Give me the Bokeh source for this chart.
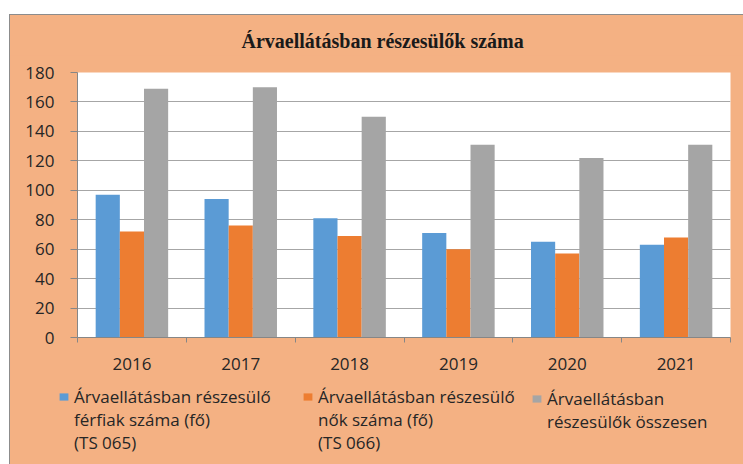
from bokeh.plotting import figure
from bokeh.models import (ColumnDataSource, FixedTicker, Legend, LegendItem, Spacer, Range1d, Label)
from bokeh.layouts import column, row
from bokeh.embed import file_html
from bokeh.resources import INLINE

years = ["2016", "2017", "2018", "2019", "2020", "2021"]
ferfiak = [97, 94, 81, 71, 65, 63]
nok = [72, 76, 69, 60, 57, 68]
osszesen = [169, 170, 150, 131, 122, 131]
series_labels = [
    ["Árvaellátásban részesülő", "férfiak száma (fő)", "(TS 065)"],
    ["Árvaellátásban részesülő", "nők száma (fő)", "(TS 066)"],
    ["Árvaellátásban", "részesülők összesen"],
]
title_text = "Árvaellátásban részesülők száma"
y_ticks = list(range(0, 181, 20))

BG = "#F4B183"
colors = ["#5B9BD5", "#ED7D31", "#A5A5A5"]
offsets = [-0.222, 0.0, 0.222]
bw = 0.222

centers = [i + 0.5 for i in range(len(years))]

W = 733

# title panel
TH = 40
tf = figure(width=W - 1, height=TH, output_backend="svg", toolbar_location=None,
            x_range=Range1d(0, W - 1), y_range=Range1d(0, TH),
            min_border=0, x_axis_type=None, y_axis_type=None)
tf.border_fill_color = BG
tf.background_fill_alpha = 0
tf.outline_line_color = None
tf.grid.visible = False
tf.add_layout(Label(x=230, y=TH - 25, text=title_text, text_font="Liberation Serif",
                    text_font_size="20px", text_font_style="bold", text_color="#1a1a1a",
                    text_align="left", text_baseline="middle"))

p = figure(width=W, height=366 - TH, output_backend="svg", toolbar_location=None,
           x_range=Range1d(0, len(years)), y_range=Range1d(0, 180),
           min_border_left=67, min_border_right=13, min_border_top=57 - TH, min_border_bottom=44)
p.border_fill_color = BG
p.background_fill_color = "white"
p.outline_line_color = None

renderers = []
for vals, col, off in zip([ferfiak, nok, osszesen], colors, offsets):
    src = ColumnDataSource(dict(x=[c + off for c in centers], top=vals))
    r = p.vbar(x="x", top="top", width=bw, source=src, fill_color=col, line_color=None)
    renderers.append(r)

# x axis
xa = p.xaxis[0]
xa.ticker = FixedTicker(ticks=centers, minor_ticks=list(range(len(years) + 1)))
xa.major_label_overrides = {c: y for c, y in zip(centers, years)}
xa.major_tick_out = 0
xa.major_tick_in = 0
xa.minor_tick_out = 5
xa.minor_tick_in = 0
xa.minor_tick_line_color = "#868686"
xa.axis_line_color = "#868686"
xa.major_label_text_font = "Open Sans"
xa.major_label_text_font_size = "17px"
xa.major_label_text_color = "#262626"
xa.major_label_standoff = 15

ya = p.yaxis[0]
ya.ticker = FixedTicker(ticks=y_ticks)
ya.major_tick_out = 7
ya.major_tick_in = 0
ya.minor_tick_line_color = None
ya.major_tick_line_color = "#868686"
ya.axis_line_color = "#868686"
ya.major_label_text_font = "Open Sans"
ya.major_label_text_font_size = "17px"
ya.major_label_text_color = "#262626"
ya.major_label_standoff = 16

p.xgrid.grid_line_color = None
p.ygrid.ticker = FixedTicker(ticks=y_ticks)
p.ygrid.grid_line_color = "#A6A6A6"
p.ygrid.grid_line_width = 1.2

# legend panel (separate figure so the legend is not clipped)
LH = 84
pl = figure(width=W - 1, height=LH, output_backend="svg", toolbar_location=None,
            x_range=Range1d(0, 1), y_range=Range1d(0, 1),
            min_border=0, x_axis_type=None, y_axis_type=None)
pl.border_fill_color = BG
pl.background_fill_alpha = 0
pl.outline_line_color = None
pl.grid.visible = False

blank = pl.vbar(x=[5], top=[5], width=0.1, fill_alpha=0, line_alpha=0)
legend_x = [47, 291, 520]
for col, lines, lx in zip(colors, series_labels, legend_x):
    sw = pl.vbar(x=[5], top=[5], width=0.1, fill_color=col, line_color=None)
    items = [LegendItem(label=lines[0], renderers=[sw])]
    items += [LegendItem(label=t, renderers=[blank]) for t in lines[1:]]
    n = len(lines)
    h = n * 23 - (n - 1) * 2
    lg = Legend(items=items, orientation="vertical", location=(lx, LH - 8 - h))
    lg.background_fill_alpha = 0
    lg.border_line_color = None
    lg.label_text_font = "Open Sans"
    lg.label_text_font_size = "17px"
    lg.label_text_color = "#262626"
    lg.glyph_width = 11
    lg.glyph_height = 9
    lg.label_standoff = 5
    lg.spacing = -2
    lg.padding = 0
    lg.margin = 0
    pl.add_layout(lg, "center")

inner = column(row(Spacer(width=1), tf, spacing=0), p, row(Spacer(width=1), pl, spacing=0), spacing=0)
inner.styles = {"border-left": "1px solid #8c8c8c", "border-top": "1px solid #8c8c8c",
                "background-color": BG}
layout = column(Spacer(height=14), row(Spacer(width=9), inner, spacing=0), spacing=0)
open("out.html", "w").write(file_html(layout, INLINE))
